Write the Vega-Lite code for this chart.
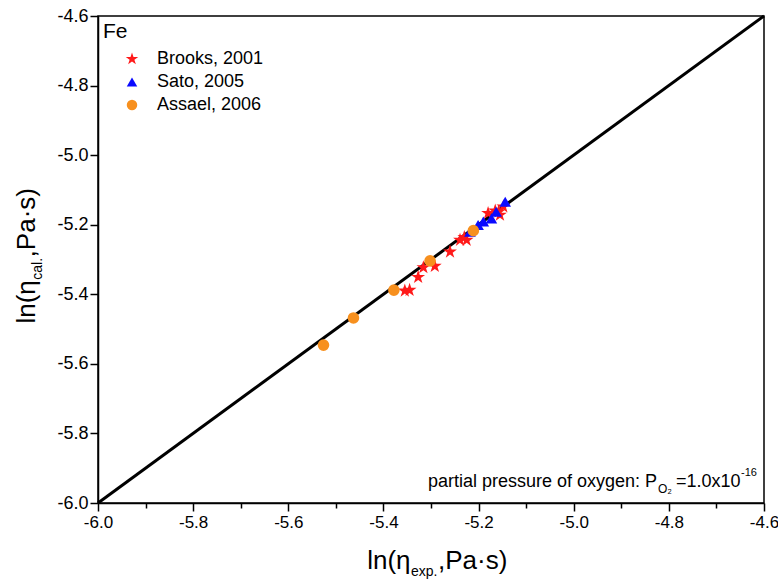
{
  "$schema": "https://vega.github.io/schema/vega-lite/v6.json",
  "width": 666,
  "height": 487,
  "autosize": {"type": "none"},
  "padding": {"left": 98, "top": 16, "right": 14, "bottom": 82},
  "background": "white",
  "config": {
    "view": {"stroke": "black", "strokeWidth": 1.5},
    "text": {"font": "Liberation Sans", "fontWeight": "normal", "color": "black"},
    "axis": {
      "grid": false, "title": null,
      "labelFont": "Liberation Sans", "labelFontSize": 18, "labelColor": "black",
      "labelFlush": false, "labelOverlap": false,
      "tickColor": "black", "tickWidth": 1.5, "tickSize": 8,
      "domainColor": "black", "domainWidth": 1.5
    }
  },
  "data": {"values": [
      {"src": "Brooks, 2001", "x": -5.355, "y": -5.390},
      {"src": "Brooks, 2001", "x": -5.345, "y": -5.388},
      {"src": "Brooks, 2001", "x": -5.327, "y": -5.351},
      {"src": "Brooks, 2001", "x": -5.316, "y": -5.323},
      {"src": "Brooks, 2001", "x": -5.292, "y": -5.319},
      {"src": "Brooks, 2001", "x": -5.260, "y": -5.278},
      {"src": "Brooks, 2001", "x": -5.239, "y": -5.244},
      {"src": "Brooks, 2001", "x": -5.225, "y": -5.244},
      {"src": "Brooks, 2001", "x": -5.230, "y": -5.236},
      {"src": "Brooks, 2001", "x": -5.180, "y": -5.167},
      {"src": "Brooks, 2001", "x": -5.165, "y": -5.160},
      {"src": "Brooks, 2001", "x": -5.158, "y": -5.163},
      {"src": "Brooks, 2001", "x": -5.148, "y": -5.148},
      {"src": "Brooks, 2001", "x": -5.155, "y": -5.172},
      {"src": "Sato, 2005", "x": -5.218, "y": -5.220},
      {"src": "Sato, 2005", "x": -5.201, "y": -5.201},
      {"src": "Sato, 2005", "x": -5.190, "y": -5.191},
      {"src": "Sato, 2005", "x": -5.173, "y": -5.182},
      {"src": "Sato, 2005", "x": -5.163, "y": -5.163},
      {"src": "Sato, 2005", "x": -5.144, "y": -5.134},
      {"src": "Assael, 2006", "x": -5.526, "y": -5.546},
      {"src": "Assael, 2006", "x": -5.463, "y": -5.468},
      {"src": "Assael, 2006", "x": -5.378, "y": -5.388},
      {"src": "Assael, 2006", "x": -5.302, "y": -5.304},
      {"src": "Assael, 2006", "x": -5.211, "y": -5.217}
  ]},
  "layer": [
    {
      "data": {"values": [{}]},
      "mark": {"type": "rule", "color": "black", "strokeWidth": 3},
      "encoding": {"x": {"datum": -6.0}, "y": {"datum": -6.0}, "x2": {"datum": -4.6}, "y2": {"datum": -4.6}}
    },
    {
      "mark": {"type": "point", "filled": true, "opacity": 1, "size": 135},
      "encoding": {
        "x": {
          "field": "x", "type": "quantitative",
          "scale": {"domain": [-6.0, -4.6], "nice": false, "zero": false},
          "axis": {
            "orient": "bottom", "labelPadding": 3, "labelFontSize": 17,
            "values": [-6.0, -5.9, -5.8, -5.7, -5.6, -5.5, -5.4, -5.3, -5.2, -5.1, -5.0, -4.9, -4.8, -4.7, -4.6],
            "labelExpr": "abs(round(datum.value*10))%2==0 ? replace(format(datum.value, '.1f'), '\u2212', '-') : ''",
            "tickSize": {"condition": {"test": "abs(round(datum.value*10))%2==0", "value": 8}, "value": 5}
          }
        },
        "y": {
          "field": "y", "type": "quantitative",
          "scale": {"domain": [-6.0, -4.6], "nice": false, "zero": false},
          "axis": {
            "orient": "left", "labelPadding": 2,
            "values": [-6.0, -5.9, -5.8, -5.7, -5.6, -5.5, -5.4, -5.3, -5.2, -5.1, -5.0, -4.9, -4.8, -4.7, -4.6],
            "labelExpr": "abs(round(datum.value*10))%2==0 ? replace(format(datum.value, '.1f'), '\u2212', '-') : ''",
            "tickSize": {"condition": {"test": "abs(round(datum.value*10))%2==0", "value": 8}, "value": 5}
          }
        },
        "color": {
          "field": "src", "type": "nominal",
          "scale": {"domain": ["Brooks, 2001", "Sato, 2005", "Assael, 2006"], "range": ["#ff1a1a", "#0a0aff", "#f7901e"]},
          "legend": {
            "title": "Fe", "orient": "top-left", "offset": 5, "padding": 0,
            "titleFont": "Liberation Sans", "titleFontSize": 21, "titleFontWeight": "normal", "titleColor": "black", "titlePadding": 8,
            "labelFont": "Liberation Sans", "labelFontSize": 18, "labelColor": "black",
            "symbolOffset": 20, "labelOffset": 16, "rowPadding": 5, "symbolSize": 110, "symbolStrokeWidth": 0
          }
        },
        "shape": {
          "field": "src", "type": "nominal",
          "scale": {"domain": ["Brooks, 2001", "Sato, 2005", "Assael, 2006"], "range": ["M0,-1.25L0.281,-0.386L1.189,-0.386L0.454,0.148L0.735,1.011L0,0.477L-0.735,1.011L-0.454,0.148L-1.189,-0.386L-0.281,-0.386Z", "triangle-up", "circle"]}
        }
      }
    },
    {
      "data": {"values": [{}]},
      "mark": {"type": "text", "align": "right", "baseline": "alphabetic", "font": "Liberation Sans", "fontWeight": "normal", "fontSize": 26, "dx": -20.5, "dy": 66},
      "encoding": {"x": {"datum": -5.3}, "y": {"datum": -6.0}, "text": {"value": "ln(η"}}
    },
    {
      "data": {"values": [{}]},
      "mark": {"type": "text", "align": "left", "baseline": "alphabetic", "font": "Liberation Sans", "fontWeight": "normal", "fontSize": 14, "dx": -20, "dy": 73},
      "encoding": {"x": {"datum": -5.3}, "y": {"datum": -6.0}, "text": {"value": "exp."}}
    },
    {
      "data": {"values": [{}]},
      "mark": {"type": "text", "align": "left", "baseline": "alphabetic", "font": "Liberation Sans", "fontWeight": "normal", "fontSize": 26, "dx": 7, "dy": 66},
      "encoding": {"x": {"datum": -5.3}, "y": {"datum": -6.0}, "text": {"value": ",Pa·s)"}}
    },
    {
      "data": {"values": [{}]},
      "mark": {"type": "text", "align": "right", "baseline": "alphabetic", "font": "Liberation Sans", "fontWeight": "normal", "fontSize": 26, "angle": 270, "dx": -20.7, "dy": -63},
      "encoding": {"x": {"datum": -6.0}, "y": {"datum": -5.3}, "text": {"value": "ln(η"}}
    },
    {
      "data": {"values": [{}]},
      "mark": {"type": "text", "align": "left", "baseline": "alphabetic", "font": "Liberation Sans", "fontWeight": "normal", "fontSize": 14, "angle": 270, "dx": -20.2, "dy": -56},
      "encoding": {"x": {"datum": -6.0}, "y": {"datum": -5.3}, "text": {"value": "cal."}}
    },
    {
      "data": {"values": [{}]},
      "mark": {"type": "text", "align": "left", "baseline": "alphabetic", "font": "Liberation Sans", "fontWeight": "normal", "fontSize": 26, "angle": 270, "dx": 2.1, "dy": -63},
      "encoding": {"x": {"datum": -6.0}, "y": {"datum": -5.3}, "text": {"value": ",Pa·s)"}}
    },
    {
      "data": {"values": [{}]},
      "mark": {"type": "text", "align": "right", "baseline": "alphabetic", "font": "Liberation Sans", "fontWeight": "normal", "fontSize": 18, "dx": -107, "dy": -16},
      "encoding": {"x": {"datum": -4.6}, "y": {"datum": -6.0}, "text": {"value": "partial pressure of oxygen: P"}}
    },
    {
      "data": {"values": [{}]},
      "mark": {"type": "text", "align": "left", "baseline": "alphabetic", "font": "Liberation Sans", "fontWeight": "normal", "fontSize": 12, "dx": -106, "dy": -10},
      "encoding": {"x": {"datum": -4.6}, "y": {"datum": -6.0}, "text": {"value": "O₂"}}
    },
    {
      "data": {"values": [{}]},
      "mark": {"type": "text", "align": "left", "baseline": "alphabetic", "font": "Liberation Sans", "fontWeight": "normal", "fontSize": 18, "dx": -88, "dy": -16},
      "encoding": {"x": {"datum": -4.6}, "y": {"datum": -6.0}, "text": {"value": "=1.0x10"}}
    },
    {
      "data": {"values": [{}]},
      "mark": {"type": "text", "align": "left", "baseline": "alphabetic", "font": "Liberation Sans", "fontWeight": "normal", "fontSize": 11, "dx": -23, "dy": -27},
      "encoding": {"x": {"datum": -4.6}, "y": {"datum": -6.0}, "text": {"value": "-16"}}
    }
  ]
}
